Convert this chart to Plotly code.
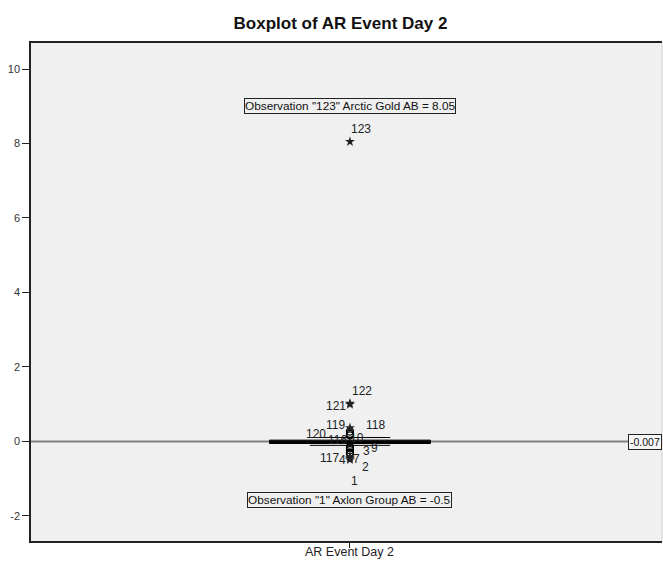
import plotly.graph_objects as go

# Summary statistics of AR Event Day 2
category = "AR Event Day 2"
box_q1 = -0.06
box_median = -0.02
box_q3 = 0.03
whisker_low = -0.11
whisker_high = 0.10
reference_value = -0.007

# y-axis ticks
y_ticks = [-2, 0, 2, 4, 6, 8, 10]
y_tick_text = ["-2", "0", "2", "4", "6", "8", "10"]

# Outlying observations (case number, value)
obs_ids = ["123", "122", "121", "119", "118", "120", "116", "10", "9", "3", "117", "2", "7", "4", "1"]
obs_vals = [8.05, 1.02, 0.99, 0.36, 0.26, 0.20, 0.16, -0.16, -0.19, -0.24, -0.30, -0.32, -0.43, -0.46, -0.50]

# Label placement (pixel offsets from each point: right, down)
label_dx = [11.5, 12.5, -14, -14, 25.5, -34, -12.5, 7.5, 24.5, 16.5, -20.5, 15.5, 6.5, -7.5, 5]
label_dy = [-12.8, -12, 1.5, -3.3, -7, 0, 5, -9, 0, 1, 6, 14, 2, 2, 21.5]

top_case, top_name, top_value = "123", "Arctic Gold AB", 8.05
low_case, low_name, low_value = "1", "Axlon Group AB", -0.5

FONT = "Arial, Liberation Sans, sans-serif"
BG = "#f0f0f0"

iqr = box_q3 - box_q1
hi_extreme = box_q3 + 3 * iqr
lo_extreme = box_q1 - 3 * iqr
is_extreme = [v > hi_extreme or v < lo_extreme for v in obs_vals]

box_w = 0.51
fig = go.Figure()

fig.add_trace(go.Box(
    x=[0], q1=[box_q1], median=[box_median], q3=[box_q3],
    lowerfence=[whisker_low], upperfence=[whisker_high],
    width=box_w, whiskerwidth=0.5, boxpoints=False,
    line=dict(color="black", width=1), fillcolor=BG,
    hoverinfo="skip", showlegend=False,
))

# thick median bar
fig.add_trace(go.Scatter(
    x=[-box_w / 2, box_w / 2], y=[box_median, box_median], mode="lines",
    line=dict(color="black", width=3.5), hoverinfo="skip", showlegend=False,
))

# outliers (circles) and extremes (stars)
circ_y = [v for v, e in zip(obs_vals, is_extreme) if not e]
star_y = [v for v, e in zip(obs_vals, is_extreme) if e]
fig.add_trace(go.Scatter(
    x=[0] * len(circ_y), y=circ_y, mode="markers",
    marker=dict(symbol="circle-open", size=7, color="black", line=dict(width=1.2)),
    showlegend=False,
))
fig.add_trace(go.Scatter(
    x=[0] * len(star_y), y=star_y, mode="markers",
    marker=dict(symbol="star", size=7.5, color="#222222"),
    showlegend=False,
))

annotations = []
for cid, v, dx, dy in zip(obs_ids, obs_vals, label_dx, label_dy):
    annotations.append(dict(
        x=0, y=v, xref="x", yref="y", text=cid, showarrow=False,
        xshift=dx, yshift=-dy, font=dict(family=FONT, size=12, color="#222222"),
    ))

annotations.append(dict(
    x=0, y=0.890, xref="x", yref="paper",
    text=f'Observation "{top_case}" {top_name} = {top_value}',
    showarrow=False, bordercolor="#222222", borderwidth=1, borderpad=0,
    font=dict(family=FONT, size=11.8, color="#111111"),
))
annotations.append(dict(
    x=0, y=0.066, xref="x", yref="paper",
    text=f'Observation "{low_case}" {low_name} = {low_value}',
    showarrow=False, bordercolor="#222222", borderwidth=1, borderpad=0,
    font=dict(family=FONT, size=11.8, color="#111111"),
))
annotations.append(dict(
    x=1, y=reference_value, xref="paper", yref="y", xanchor="right",
    text=f"{reference_value}", showarrow=False,
    bordercolor="#222222", borderwidth=1, borderpad=1, bgcolor="#f7f7f7",
    font=dict(family=FONT, size=10.5, color="#111111"),
))
# category label under the axis tick
annotations.append(dict(
    x=0, y=0, xref="x", yref="paper", yanchor="top", yshift=-3,
    text=category, showarrow=False, borderpad=0,
    font=dict(family=FONT, size=12.5, color="#222222"),
))

shapes = [
    dict(type="line", xref="paper", yref="y", x0=0, x1=0.948,
         y0=reference_value, y1=reference_value,
         line=dict(color="#808080", width=2), layer="below"),
    dict(type="line", xref="paper", yref="paper", x0=1, x1=1, y0=0, y1=1,
         line=dict(color="#cfcfcf", width=1)),
]

fig.update_layout(
    width=663, height=561,
    margin=dict(l=31, r=1, t=43, b=20, autoexpand=False),
    paper_bgcolor="white", plot_bgcolor=BG,
    font=dict(family=FONT),
    title=dict(text="<b>Boxplot of AR Event Day 2</b>", x=340.5 / 663, xref="container",
               y=1 - 23 / 561, yref="container", xanchor="center", yanchor="middle",
               font=dict(family=FONT, size=17, color="#111111")),
    annotations=annotations, shapes=shapes,
    xaxis=dict(range=[-1.011, 0.989], tickvals=[0], showticklabels=False,
               automargin=False,
               showline=True, linecolor="#222222", linewidth=1.5, mirror=True,
               ticks="outside", ticklen=5, tickcolor="#222222",
               showgrid=False, zeroline=False),
    yaxis=dict(range=[-2.68, 10.70], tickvals=y_ticks, ticktext=y_tick_text,
               automargin=False,
               showline=True, linecolor="#222222", linewidth=1.5,
               ticks="outside", ticklen=7, tickcolor="#222222",
               ticklabelstandoff=0,
               showgrid=False, zeroline=False,
               tickfont=dict(family=FONT, size=11, color="#333333")),
)

fig.write_html("out.html")
